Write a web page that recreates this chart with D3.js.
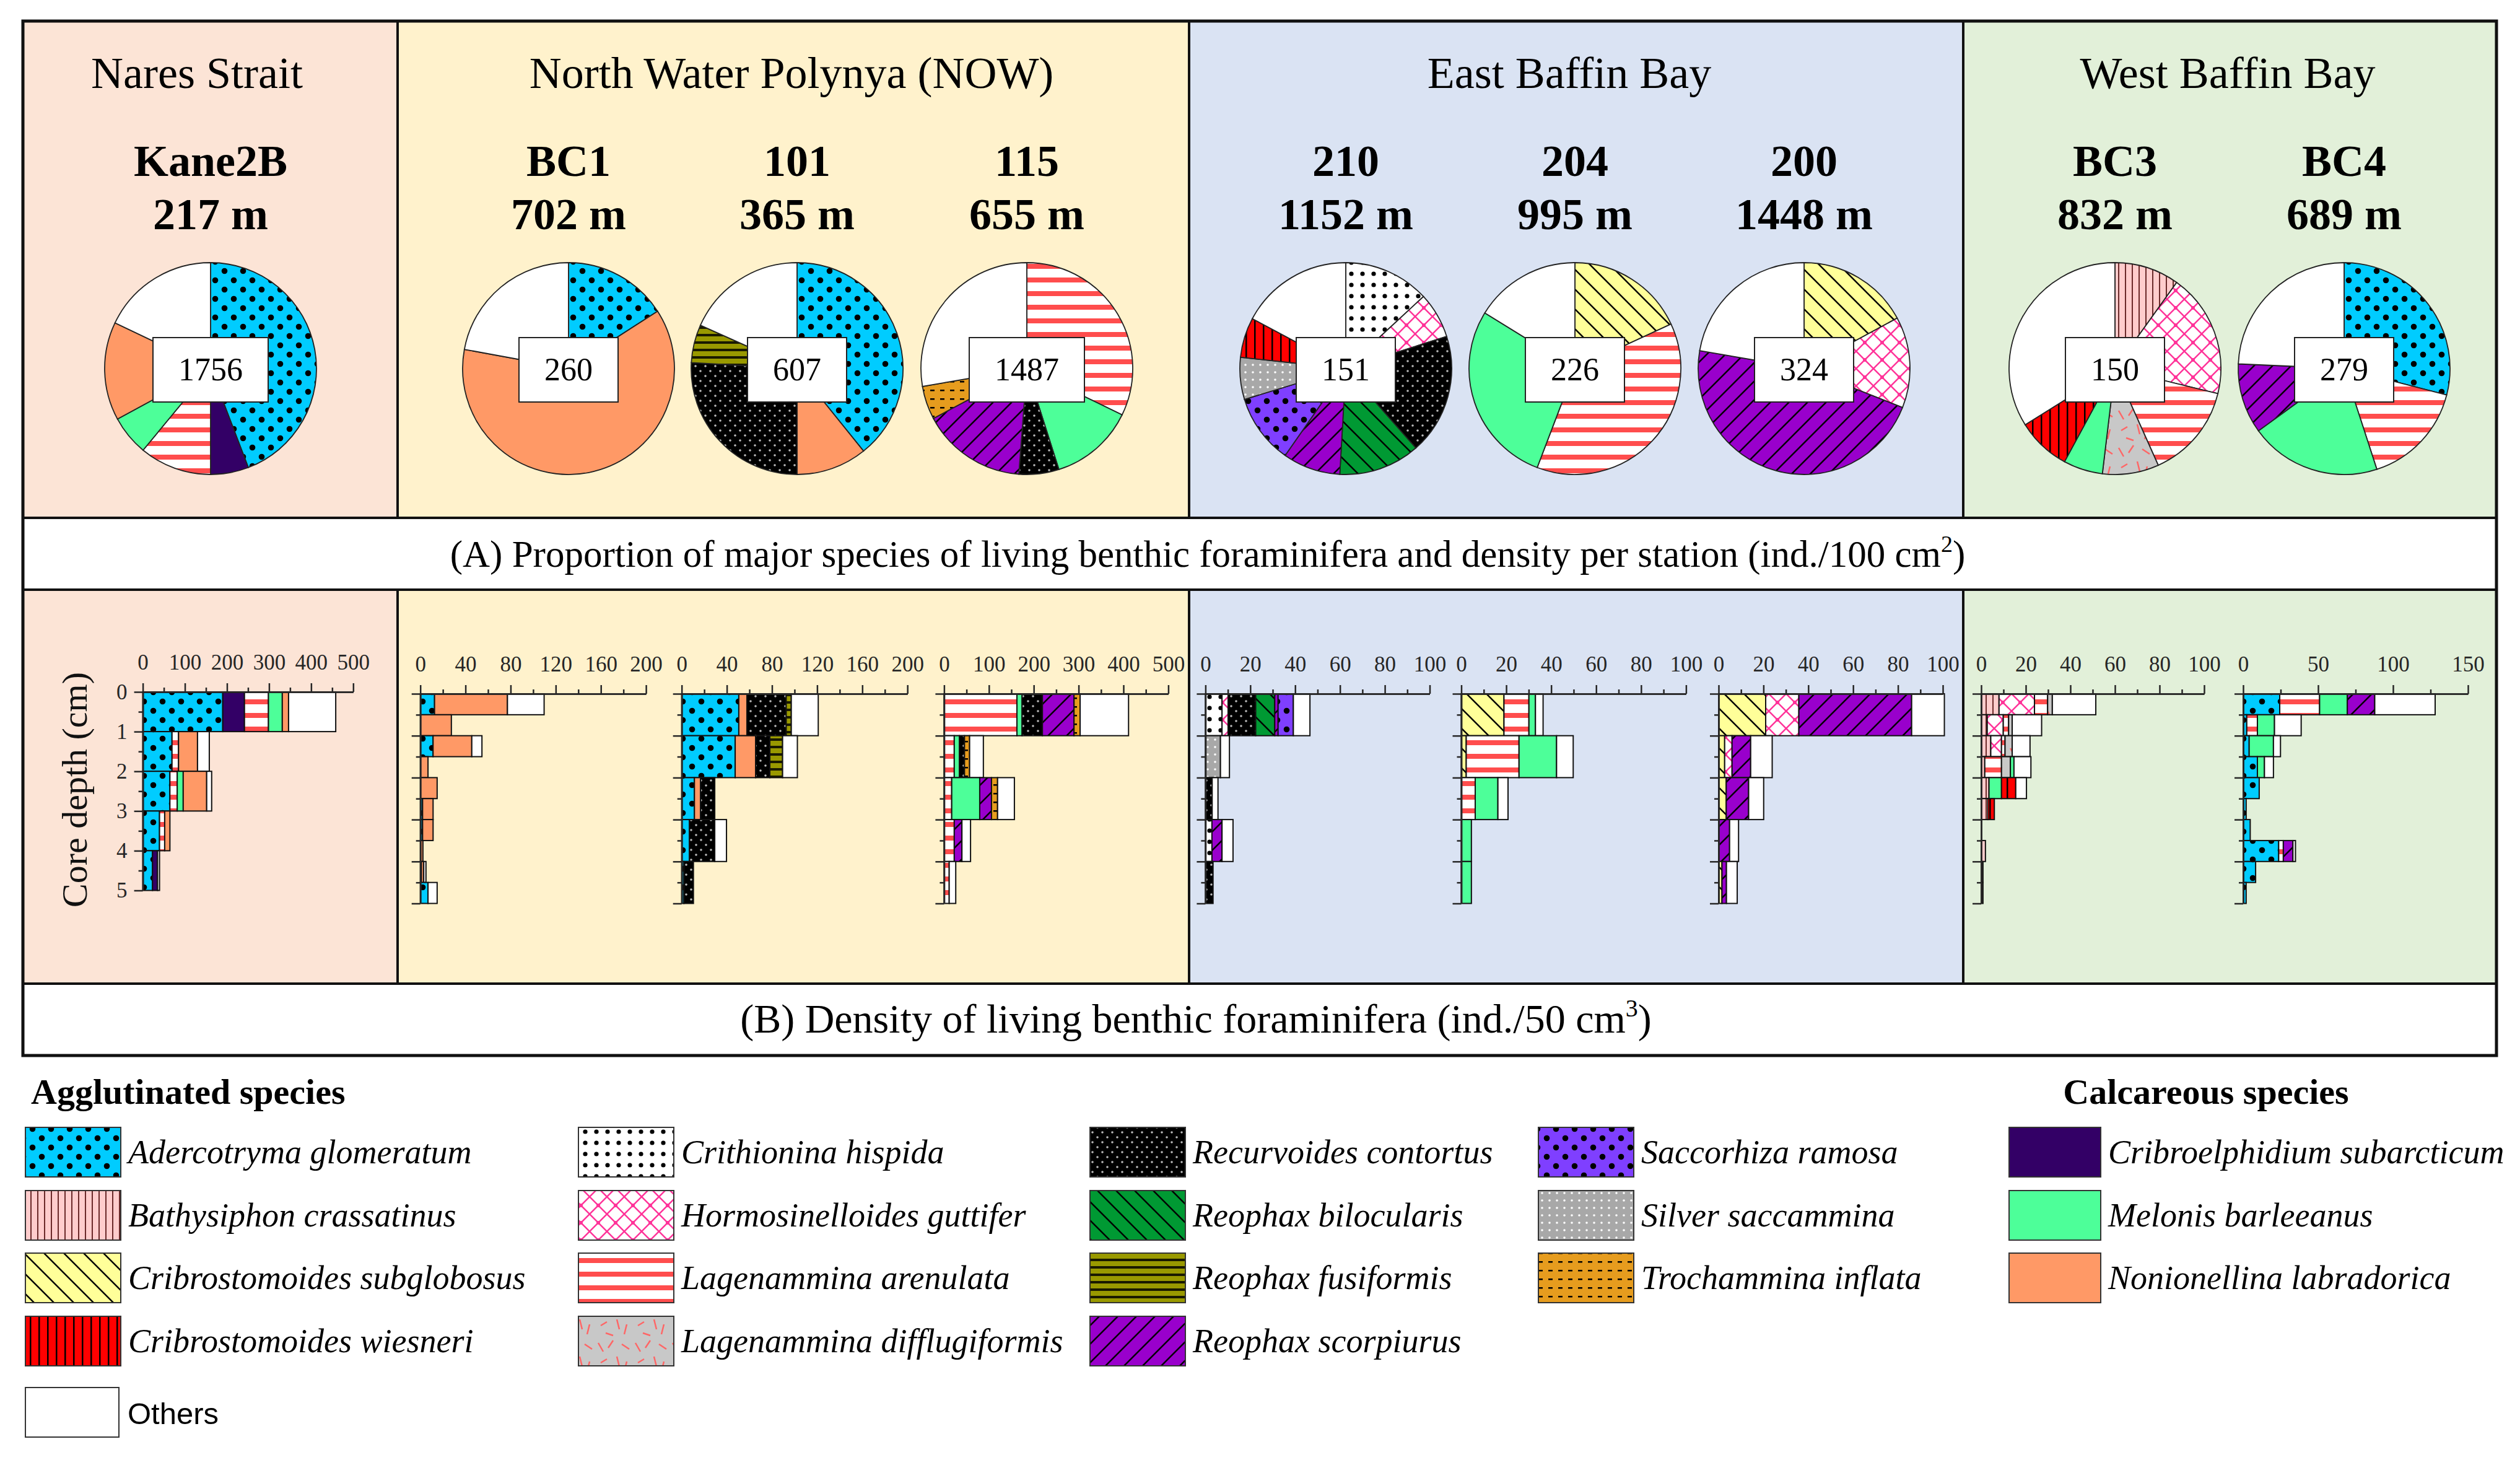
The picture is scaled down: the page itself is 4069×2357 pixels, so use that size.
<!DOCTYPE html>
<html><head><meta charset="utf-8">
<script src="https://cdn.jsdelivr.net/npm/d3@7"></script>
<style>body{margin:0;background:#fff}svg{display:block}</style>
</head><body>
<svg id="c" width="4069" height="2357"></svg>
<script>
// ---------------- DATA ----------------
const speciesKeys = ["aderco","bathy","csub","cwies","crith","hormo","laren","ldiff","recurv","rbiloc","rfusi","rscorp","sacco","silver","trocham","cribroel","melonis","nonion","others"];
const speciesNames = ["Adercotryma glomeratum","Bathysiphon crassatinus","Cribrostomoides subglobosus","Cribrostomoides wiesneri","Crithionina hispida","Hormosinelloides guttifer","Lagenammina arenulata","Lagenammina difflugiformis","Recurvoides contortus","Reophax bilocularis","Reophax fusiformis","Reophax scorpiurus","Saccorhiza ramosa","Silver saccammina","Trochammina inflata","Cribroelphidium subarcticum","Melonis barleeanus","Nonionellina labradorica","Others"];
const regionNames = ["Nares Strait","North Water Polynya (NOW)","East Baffin Bay","West Baffin Bay"];
const stationNames = ["Kane2B","BC1","101","115","210","204","200","BC3","BC4"];
const stationDepths = ["217 m","702 m","365 m","655 m","1152 m","995 m","1448 m","832 m","689 m"];
const stationDensity = [1756,260,607,1487,151,226,324,150,279];
// species shown in each station (pie order, clockwise from 12 o'clock; also bar stacking order)
const pieSpecies = [
  ["aderco","cribroel","laren","melonis","nonion","others"],
  ["aderco","nonion","others"],
  ["aderco","nonion","recurv","rfusi","others"],
  ["laren","melonis","recurv","rscorp","trocham","others"],
  ["crith","hormo","recurv","rbiloc","rscorp","sacco","silver","cwies","others"],
  ["csub","laren","melonis","others"],
  ["csub","hormo","rscorp","others"],
  ["bathy","hormo","laren","ldiff","melonis","cwies","others"],
  ["aderco","laren","melonis","rscorp","others"]
];
// proportions (%)
const pieShares = [
  [44.2,5.8,11.0,6.1,15.0,17.9],
  [15.9,62.0,22.1],
  [39.2,10.8,25.9,5.8,18.3],
  [32.2,12.9,6.1,16.0,5.1,27.7],
  [13.1,7.0,18.4,12.4,8.8,10.6,6.4,6.1,17.2],
  [18.1,37.7,28.0,16.2],
  [17.1,13.9,46.7,22.3],
  [9.9,18.9,14.5,8.6,6.0,8.2,33.9],
  [29.0,16.0,20.0,10.7,24.3]
];
// core depth interval (cm) of each bar
const barBin = [1,0.5,1,1,1,1,1,0.5,0.5];
// density (ind./50 cm3) per depth interval, columns follow pieSpecies
const barValues = [
  [[190,51.6,57,32.9,14.9,112.1],[69.4,0,15.5,0,45.1,28],[64.4,0,17.4,14.2,55.8,11.8],[39.7,0,12.3,0,12.4,0],[23,12,0,0,0,4.7]],
  [[12.6,64.6,32.5],[0,27.5,0],[11.3,34.3,9],[0,6.8,0],[0,14.9,0],[2,9.3,0],[2,9.3,0],[0,2.3,0],[1,2,2],[6.8,0,8.1]],
  [[50.6,7.2,34.8,4.5,23.9],[47.4,18.1,12.6,11.3,13.1],[11.3,5.4,12.6,0,0],[6.8,0,22.5,0,10.4],[2,0,8.4,0,0]],
  [[162.5,11.4,45.4,70.5,13.6,108],[22.7,11.4,11.4,0,11.4,30.7],[17,62.5,0,26.2,13.6,37.5],[22.7,0,0,17.1,0,19.2],[11.4,0,0,0,0,14.6]],
  [[7.4,2.7,12.3,8.5,1.5,6.8,0,0,7.4],[0,0,0,0,0,0,6.7,0,4],[0,0,3,0,0,0,0,0,2.6],[2.9,0,0,0,4.5,0,0,0,4.9],[0,0,3.4,0,0,0,0,0,0]],
  [[19,11.1,2.9,3.4],[2.2,23.5,16.7,7.4],[0,6.2,10.1,4.5],[0,0,4.5,0],[0,0,4.5,0]],
  [[21,14.8,50.3,14.6],[2.7,3.3,8.3,9.6],[3.4,0,10,6.7],[0,0,4.9,4],[1.5,0,2,4.8]],
  [[8,15.9,5.9,2.1,0,0,19.5],[2.7,7.2,2.4,1.6,0,0,13.2],[4.3,4.8,1.6,3.2,0,0,8],[1.6,0,7.5,4,1.6,0,7.6],[3.5,0,0,0,5.6,6.4,4.8],[3,0,0,0,0,2.9,0],[0,0,0,0,0,0,0],[1.9,0,0,0,0,0,0],[0.8,0,0,0,0,0,0],[0.8,0,0,0,0,0,0]],
  [[24.4,26.6,18.5,18.3,40.3],[2.4,7.1,11.4,0,17.8],[4,0,16.2,0,4.7],[9.5,0,4.7,0,6],[10.7,0,0,0,0],[2,0,0,0,0],[4.7,0,0,0,0],[23.7,3.1,0,6.4,1.7],[8.3,0,0,0,0],[2,0,0,0,0]]
];
const axisMax = [500,200,200,500,100,100,100,100,150];
const axisLabelStep = [100,40,40,100,20,20,20,20,50];
const axisMinorStep = [50,20,20,50,10,10,10,10,25];
const legendCols = [
  ["aderco","bathy","csub","cwies"],
  ["crith","hormo","laren","ldiff"],
  ["recurv","rbiloc","rfusi","rscorp"],
  ["sacco","silver","trocham"],
  ["cribroel","melonis","nonion"]
];

// ---------------- LAYOUT ----------------
const SERIF = "'Liberation Serif','Times New Roman',serif";
const svg = d3.select("#c");
const regionX = [37,642,1920,3170,4031];
const regionFill = ["#FCE4D6","#FFF2CC","#DAE3F3","#E2F0D9"];
const regionTitleX = [318,1278,2534,3597];
const TOP = 34, PIEBOT = 836, CAPA = 952, BARBOT = 1588, BOT = 1704;
const pieCX = [340,918,1287,1658,2173,2543,2913,3415,3785];
const pieCY = 595, pieR = 171;
const barX0 = [230.6,678.7,1100.7,1524.4,1946.4,2359.5,2775,3199,3622];
const barW = [339.7,364.4,364.5,362,362.1,362.9,362,360,363];

// ---------------- PATTERNS ----------------
const defs = svg.append("defs");
function pat(id,w,h,bg,fn){
  const p = defs.append("pattern").attr("id","p_"+id).attr("patternUnits","userSpaceOnUse").attr("width",w).attr("height",h);
  p.append("rect").attr("width",w).attr("height",h).attr("fill",bg);
  if(fn) fn(p);
}
function back(p,s,c,w){ // "\" lines
  p.append("path").attr("d",`M-3,-3L${s+3},${s+3}M-3,${s-3}L3,${s+3}M${s-3},-3L${s+3},3`).attr("stroke",c).attr("stroke-width",w).attr("fill","none");
}
function fwd(p,s,c,w){ // "/" lines
  p.append("path").attr("d",`M-3,${s+3}L${s+3},-3M-3,3L3,-3M${s-3},${s+3}L${s+3},${s-3}`).attr("stroke",c).attr("stroke-width",w).attr("fill","none");
}
pat("aderco",30,30,"#00CCFF",p=>{[[7.5,7.5],[22.5,22.5]].forEach(([x,y])=>p.append("circle").attr("cx",x).attr("cy",y).attr("r",4.8).attr("fill","#000"));});
pat("bathy",11,11,"#FFCCCC",p=>p.append("rect").attr("x",5).attr("width",2).attr("height",11).attr("fill","#6b2a2a"));
pat("csub",32,32,"#FFFF99",p=>back(p,32,"#000",2.5));
pat("cwies",14,14,"#FF0000",p=>p.append("rect").attr("x",6).attr("width",2.5).attr("height",14).attr("fill","#000"));
pat("crith",18,18,"#FFFFFF",p=>p.append("circle").attr("cx",9).attr("cy",9).attr("r",3.6).attr("fill","#000"));
pat("hormo",28,28,"#FFFFFF",p=>{back(p,28,"#FF3399",2.5);fwd(p,28,"#FF3399",2.5);p.append("circle").attr("cx",14).attr("cy",14).attr("r",3).attr("fill","#FF3399");});
pat("laren",22,22,"#FFFFFF",p=>p.append("rect").attr("y",7).attr("width",22).attr("height",8).attr("fill","#FF4D4D"));
pat("ldiff",60,60,"#C8C8C8",p=>{p.append("path").attr("d","M6,8L14,22M30,4L22,16M44,10L56,18M10,40L20,34M36,30L40,46M52,38L48,54M18,52L30,56").attr("stroke","#FF6666").attr("stroke-width",2.5).attr("fill","none");});
pat("recurv",16,16,"#000000",p=>{[[4,4],[12,12]].forEach(([x,y])=>p.append("circle").attr("cx",x).attr("cy",y).attr("r",1.8).attr("fill","#bbbbbb"));});
pat("rbiloc",30,30,"#009933",p=>back(p,30,"#000",2.5));
pat("rfusi",12,12,"#999900",p=>p.append("rect").attr("y",4).attr("width",12).attr("height",4).attr("fill","#1a1a00"));
pat("rscorp",30,30,"#9900CC",p=>fwd(p,30,"#000",2.5));
pat("sacco",30,30,"#7F3FFF",p=>{[[7.5,7.5],[22.5,22.5]].forEach(([x,y])=>p.append("circle").attr("cx",x).attr("cy",y).attr("r",4.8).attr("fill","#000"));});
pat("silver",12,12,"#A8A8A8",p=>p.append("circle").attr("cx",6).attr("cy",6).attr("r",1.8).attr("fill","#fff"));
pat("trocham",16,14,"#E69C1E",p=>p.append("rect").attr("x",4).attr("y",6).attr("width",7).attr("height",2.5).attr("fill","#000"));
const solid = {cribroel:"#330066",melonis:"#4DFF99",nonion:"#FF9966",others:"#FFFFFF"};
const fillFor = k => solid[k] || `url(#p_${k})`;

// ---------------- BACKGROUNDS & FRAME ----------------
for(let r=0;r<4;r++){
  svg.append("rect").attr("x",regionX[r]).attr("y",TOP).attr("width",regionX[r+1]-regionX[r]).attr("height",PIEBOT-TOP).attr("fill",regionFill[r]);
  svg.append("rect").attr("x",regionX[r]).attr("y",CAPA).attr("width",regionX[r+1]-regionX[r]).attr("height",BARBOT-CAPA).attr("fill",regionFill[r]);
}
const lines = svg.append("g").attr("stroke","#111").attr("stroke-width",4).attr("fill","none");
lines.append("rect").attr("x",37).attr("y",TOP).attr("width",4031-37).attr("height",BOT-TOP).attr("stroke-width",5);
[PIEBOT,CAPA,BARBOT].forEach(y=>lines.append("line").attr("x1",37).attr("x2",4031).attr("y1",y).attr("y2",y));
[1,2,3].forEach(r=>{
  lines.append("line").attr("x1",regionX[r]).attr("x2",regionX[r]).attr("y1",TOP).attr("y2",PIEBOT);
  lines.append("line").attr("x1",regionX[r]).attr("x2",regionX[r]).attr("y1",CAPA).attr("y2",BARBOT);
});

// titles
regionNames.forEach((n,r)=>svg.append("text").attr("x",regionTitleX[r]).attr("y",142).attr("text-anchor","middle").attr("font-family",SERIF).attr("font-size",72).text(n));
stationNames.forEach((n,i)=>{
  const t = svg.append("text").attr("x",pieCX[i]).attr("text-anchor","middle").attr("font-family",SERIF).attr("font-size",72).attr("font-weight","bold");
  t.append("tspan").attr("x",pieCX[i]).attr("y",284).text(n);
  t.append("tspan").attr("x",pieCX[i]).attr("y",370).text(stationDepths[i]);
});

// ---------------- PIES ----------------
const pie = d3.pie().sort(null).value(d=>d.v);
const arc = d3.arc().innerRadius(0).outerRadius(pieR);
stationNames.forEach((n,i)=>{
  const data = pieSpecies[i].map((k,j)=>({k,v:pieShares[i][j]}));
  const g = svg.append("g").attr("transform",`translate(${pieCX[i]},${pieCY})`);
  g.selectAll("path").data(pie(data)).join("path").attr("d",arc).attr("fill",d=>fillFor(d.data.k)).attr("stroke","#222").attr("stroke-width",1.8);
  const label = String(stationDensity[i]);
  const w = label.length*26 + 82;
  g.append("rect").attr("x",-w/2).attr("y",-50).attr("width",w).attr("height",104).attr("fill","#fff").attr("stroke","#222").attr("stroke-width",2);
  g.append("text").attr("x",0).attr("y",19).attr("text-anchor","middle").attr("font-family",SERIF).attr("font-size",52).text(label);
});

// captions
const capA = svg.append("text").attr("x",1950).attr("y",915).attr("text-anchor","middle").attr("font-family",SERIF).attr("font-size",61);
capA.append("tspan").text("(A) Proportion of major species of living benthic foraminifera and density per station (ind./100 cm");
capA.append("tspan").attr("dy",-24).attr("font-size",38).text("2");
capA.append("tspan").attr("dy",24).text(")");
const capB = svg.append("text").attr("x",1931).attr("y",1667).attr("text-anchor","middle").attr("font-family",SERIF).attr("font-size",66);
capB.append("tspan").text("(B) Density of living benthic foraminifera (ind./50 cm");
capB.append("tspan").attr("dy",-26).attr("font-size",40).text("3");
capB.append("tspan").attr("dy",26).text(")");

// ---------------- BAR CHARTS ----------------
stationNames.forEach((n,i)=>{
  const y0 = i===0?1117:1120, y5 = i===0?1437.5:1458.5;
  const x = d3.scaleLinear().domain([0,axisMax[i]]).range([barX0[i],barX0[i]+barW[i]]);
  const y = d3.scaleLinear().domain([0,5]).range([y0,y5]);
  const g = svg.append("g");
  barValues[i].forEach((row,r)=>{
    let acc = 0;
    row.forEach((v,k)=>{
      if(v<=0) return;
      g.append("rect").attr("x",x(acc)).attr("width",x(acc+v)-x(acc))
        .attr("y",y(r*barBin[i])).attr("height",y((r+1)*barBin[i])-y(r*barBin[i]))
        .attr("fill",fillFor(pieSpecies[i][k])).attr("stroke","#111").attr("stroke-width",2);
      acc += v;
    });
  });
  const tickCol = "#262626";
  const minor = d3.range(0,axisMax[i]+1e-9,axisMinorStep[i]).filter(v=>Math.abs(v/axisLabelStep[i]-Math.round(v/axisLabelStep[i]))>1e-6);
  const major = d3.range(0,axisMax[i]+1e-9,axisLabelStep[i]);
  const ax1 = svg.append("g").attr("transform",`translate(0,${y0})`).call(d3.axisTop(x).tickValues(minor).tickSize(7).tickSizeOuter(0).tickFormat(""));
  const ax2 = svg.append("g").attr("transform",`translate(0,${y0})`).call(d3.axisTop(x).tickValues(major).tickSize(14).tickSizeOuter(0).tickPadding(22).tickFormat(d3.format("d")));
  [ax1,ax2].forEach(a=>{a.selectAll("path,line").attr("stroke",tickCol).attr("stroke-width",2.5);a.selectAll("text").attr("font-family",SERIF).attr("font-size",35).attr("fill",tickCol);});
  const ay1 = svg.append("g").attr("transform",`translate(${x(0)},0)`).call(d3.axisLeft(y).tickValues([0.5,1.5,2.5,3.5,4.5]).tickSize(7).tickSizeOuter(0).tickFormat(""));
  const ay2 = svg.append("g").attr("transform",`translate(${x(0)},0)`).call(d3.axisLeft(y).tickValues([0,1,2,3,4,5]).tickSize(14).tickSizeOuter(0).tickPadding(11).tickFormat(i===0?d3.format("d"):""));
  [ay1,ay2].forEach(a=>{a.selectAll("path,line").attr("stroke",tickCol).attr("stroke-width",2.5);a.selectAll("text").attr("font-family",SERIF).attr("font-size",35).attr("fill",tickCol);});
});
svg.append("text").attr("transform","translate(140,1275) rotate(-90)").attr("text-anchor","middle").attr("font-family",SERIF).attr("font-size",58).attr("fill","#111").text("Core depth (cm)");

// ---------------- LEGEND ----------------
svg.append("text").attr("x",50).attr("y",1782).attr("font-family",SERIF).attr("font-weight","bold").attr("font-size",58).text("Agglutinated species");
svg.append("text").attr("x",3562).attr("y",1782).attr("text-anchor","middle").attr("font-family",SERIF).attr("font-weight","bold").attr("font-size",58).text("Calcareous species");
const legX = [41,934,1760,2484,3244];
const legW = [154,154,154,154,148];
const legY = [1820,1922,2023,2125];
legendCols.forEach((col,c)=>{
  col.forEach((k,r)=>{
    svg.append("rect").attr("x",legX[c]).attr("y",legY[r]).attr("width",legW[c]).attr("height",80).attr("fill",fillFor(k)).attr("stroke","#333").attr("stroke-width",2);
    svg.append("text").attr("x",legX[c]+legW[c]+12).attr("y",legY[r]+58).attr("font-family",SERIF).attr("font-style","italic").attr("font-size",54).text(speciesNames[speciesKeys.indexOf(k)]);
  });
});
svg.append("rect").attr("x",41).attr("y",2240).attr("width",151).attr("height",80).attr("fill","#fff").attr("stroke","#333").attr("stroke-width",2);
svg.append("text").attr("x",206).attr("y",2299).attr("font-family","'Liberation Sans',Arial,sans-serif").attr("font-size",49).text(speciesNames[speciesKeys.indexOf("others")]);
</script>
</body></html>
